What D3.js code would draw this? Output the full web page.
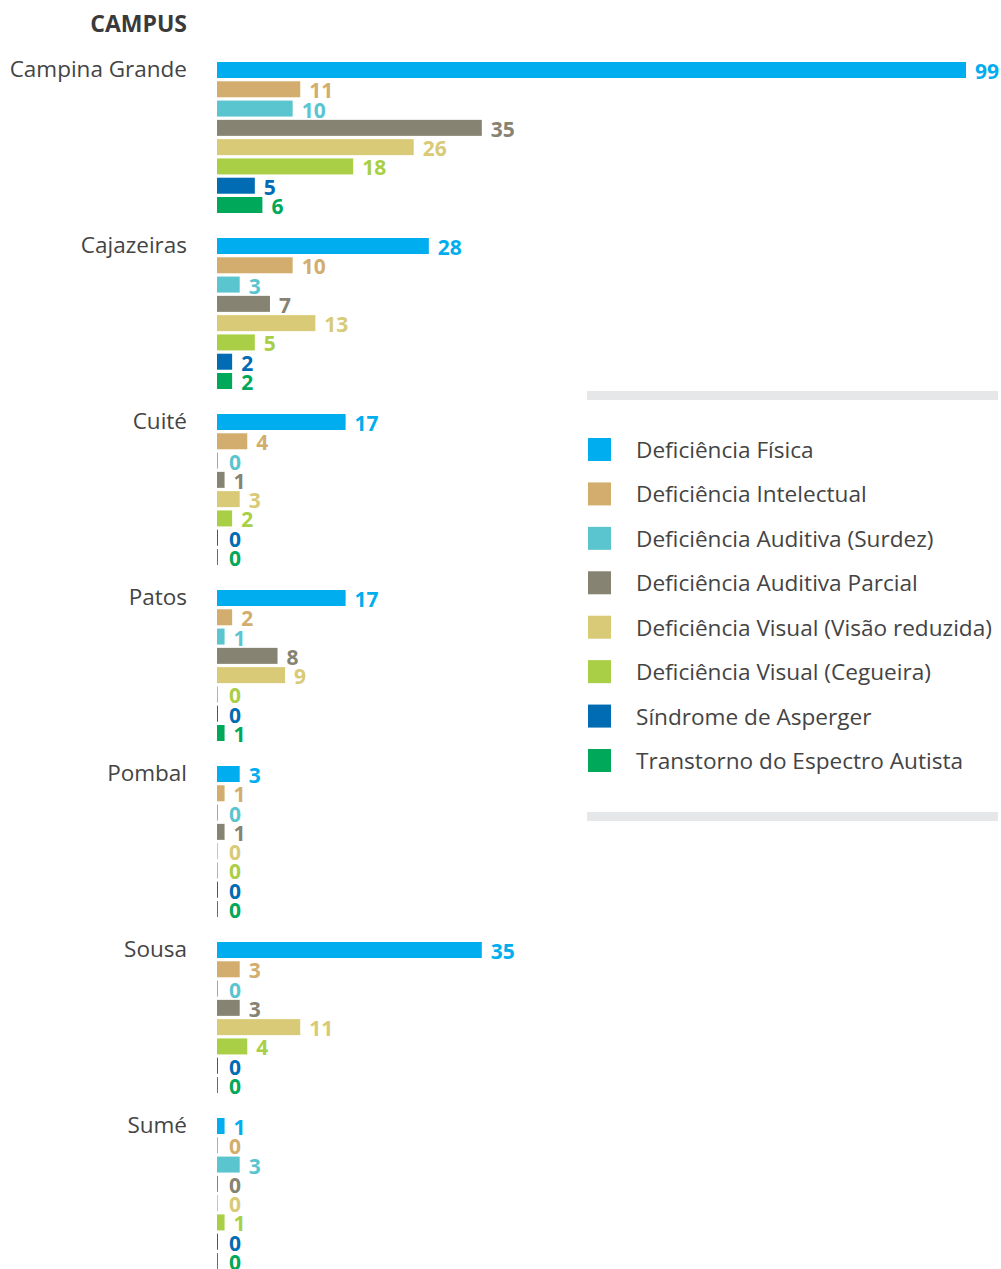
<!DOCTYPE html>
<html>
<head>
<meta charset="utf-8">
<script src="https://cdn.jsdelivr.net/npm/d3@7"></script>
<style>
  body { margin: 0; background: #fff; }
  text { font-family: "Open Sans", sans-serif; }
</style>
</head>
<body>
<svg id="chart" width="1001" height="1269"></svg>
<script>
var campuses = ["Campina Grande", "Cajazeiras", "Cuité", "Patos", "Pombal", "Sousa", "Sumé"];
var series = ["Deficiência Física", "Deficiência Intelectual", "Deficiência Auditiva (Surdez)",
              "Deficiência Auditiva Parcial", "Deficiência Visual (Visão reduzida)",
              "Deficiência Visual (Cegueira)", "Síndrome de Asperger", "Transtorno do Espectro Autista"];
var colors = ["#00aeef", "#d2ad6d", "#5bc5cf", "#868372", "#d8ca76", "#a9cf46", "#016cb4", "#00a859"];

var campinaGrande = [99, 11, 10, 35, 26, 18, 5, 6];
var cajazeiras    = [28, 10, 3, 7, 13, 5, 2, 2];
var cuite         = [17, 4, 0, 1, 3, 2, 0, 0];
var patos         = [17, 2, 1, 8, 9, 0, 0, 1];
var pombal        = [3, 1, 0, 1, 0, 0, 0, 0];
var sousa         = [35, 3, 0, 3, 11, 4, 0, 0];
var sume          = [1, 0, 3, 0, 0, 1, 0, 0];
var values = [campinaGrande, cajazeiras, cuite, patos, pombal, sousa, sume];

var svg = d3.select("#chart");

var x = d3.scaleLinear().domain([0, 99]).range([217, 966]);
var y = d3.scaleBand().domain(campuses).range([62, 62 + 7 * 176]);
var yInner = d3.scaleBand().domain(series).range([0, 151]).paddingInner(0.17);
var color = d3.scaleOrdinal().domain(series).range(colors);

svg.append("text")
    .attr("x", 187).attr("y", 32)
    .attr("text-anchor", "end")
    .style("font-size", "23px").style("font-weight", "bold").style("fill", "#3a3a3a")
    .text("CAMPUS");

var groups = svg.selectAll(".campus")
    .data(campuses)
  .enter().append("g")
    .attr("class", "campus")
    .attr("transform", function(d) { return "translate(0," + y(d) + ")"; });

groups.append("text")
    .attr("x", 187).attr("y", 15)
    .attr("text-anchor", "end")
    .style("font-size", "22.5px").style("fill", "#444")
    .text(function(d) { return d; });

groups.each(function(c, i) {
  var rows = series.map(function(s, j) { return { s: s, v: values[i][j] }; });
  var g = d3.select(this);

  g.selectAll("rect")
      .data(rows)
    .enter().append("rect")
      .attr("x", x(0))
      .attr("y", function(d) { return yInner(d.s); })
      .attr("width", function(d) { return Math.max(1, x(d.v) - x(0)); })
      .attr("height", yInner.bandwidth())
      .style("fill", function(d) { return color(d.s); });

  g.selectAll(".val")
      .data(rows)
    .enter().append("text")
      .attr("class", "val")
      .attr("x", function(d) { return Math.max(x(0) + 3, x(d.v)) + 9; })
      .attr("y", function(d) { return yInner(d.s) + yInner.bandwidth() / 2 + 9; })
      .style("font-size", "21px").style("font-weight", "bold")
      .style("fill", function(d) { return color(d.s); })
      .text(function(d) { return d.v; });
});

// legend
var legend = svg.append("g");
legend.append("rect").attr("x", 587).attr("y", 391).attr("width", 411).attr("height", 9).style("fill", "#e6e7e8");
legend.append("rect").attr("x", 587).attr("y", 812).attr("width", 411).attr("height", 9).style("fill", "#e6e7e8");

var ly = d3.scalePoint().domain(series).range([438, 749]);
var items = legend.selectAll(".item")
    .data(series)
  .enter().append("g")
    .attr("class", "item")
    .attr("transform", function(d) { return "translate(588," + ly(d) + ")"; });

items.append("rect")
    .attr("width", 23).attr("height", 23)
    .style("fill", function(d) { return color(d); });

items.append("text")
    .attr("x", 48).attr("y", 20)
    .style("font-size", "22.6px").style("fill", "#444")
    .text(function(d) { return d; });
</script>
</body>
</html>
